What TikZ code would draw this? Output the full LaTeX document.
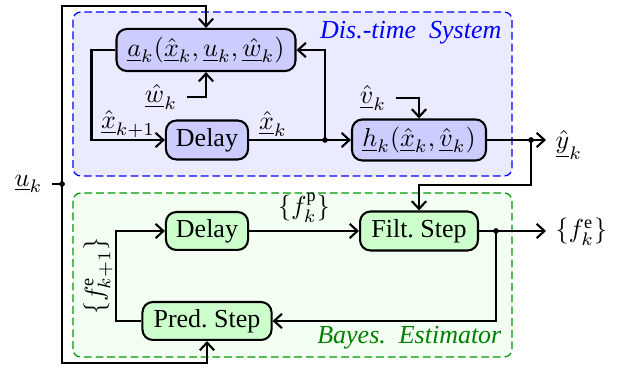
\documentclass[tikz,border=0pt]{standalone}
\usepackage{fontspec}
\setmainfont{Liberation Serif}
\newfontfamily\tmsfont{Liberation Serif}
\usetikzlibrary{arrows.meta}
\begin{document}
\begin{tikzpicture}[x=0.385pt,y=-0.385pt,
 line width=0.8pt,
 every node/.style={font=\tmsfont},
 blk/.style={draw, rounded corners=4pt, line width=0.8pt, inner sep=0pt},
 sysblk/.style={blk, fill=blue!20},
 estblk/.style={blk, fill=green!20},
 arr/.style={-{Straight Barb[length=3pt,width=5.5pt]}},
 sysbg/.style={draw=blue, fill=blue!8, rounded corners=3pt, line width=0.5pt, dash pattern=on 3pt off 1.5pt},
 estbg/.style={draw=green!60!black, fill=green!5, rounded corners=3pt, line width=0.5pt, dash pattern=on 3pt off 1.5pt},
 lbl/.style={inner sep=3.3pt},
 ttl/.style={font=\tmsfont\itshape, anchor=east},
 jdot/.style={fill=black},
]
\useasboundingbox (0,0) rectangle (618,369);
% background regions
\path[sysbg] (73,12) rectangle (512,176);
\path[estbg] (73,193) rectangle (512,357);
\node[ttl, text=blue] (t1) at (511,33) {Dis.-time\ \ System};
\node[ttl, text=green!50!black] (t2) at (511,338) {Bayes.\ \ Estimator};
% blocks
\node[sysblk, minimum width=68.9pt, minimum height=16.2pt] (a) at (206,50) {$\underline{a}_k(\underline{\hat{x}}_k,\underline{u}_k,\underline{\hat{w}}_k)$};
\node[sysblk, minimum width=31.6pt, minimum height=15pt] (d1) at (207,140) {Delay};
\node[sysblk, minimum width=51.6pt, minimum height=15.8pt] (h) at (419,140) {$\underline{h}_k(\underline{\hat{x}}_k,\underline{\hat{v}}_k)$};
\node[estblk, minimum width=45.4pt, minimum height=15pt] (filt) at (419,231) {Filt.\ Step};
\node[estblk, minimum width=31.6pt, minimum height=14.6pt] (d2) at (207,231) {Delay};
\node[estblk, minimum width=49.7pt, minimum height=14.6pt] (pred) at (207,321) {Pred.\ Step};
% labels
\node[lbl] (xk1) at (128,124) {$\underline{\hat{x}}_{k+1}$};
\node[lbl] (xk) at (273,124) {$\underline{\hat{x}}_k$};
\node[lbl] (wl) at (161,97) {$\underline{\hat{w}}_k$};
\node[lbl] (vl) at (373,98) {$\underline{\hat{v}}_k$};
\node[lbl, anchor=west] (yl) at (546,145) {$\underline{\hat{y}}_k$};
\node[lbl, anchor=west] (fe) at (546,232) {$\{f_k^{\mathrm{e}}\}$};
\node[lbl] (fp) at (304,208) {$\{f_k^{\mathrm{p}}\}$};
\node[lbl, rotate=90] (fe1) at (98,276) {$\{f_{k+1}^{\mathrm{e}}\}$};
\node[lbl, anchor=east] (ul) at (52,184) {$\underline{u}_k$};
% coordinates
\coordinate (j1) at (325,140);
\coordinate (j2) at (531,140);
\coordinate (j3) at (496,231);
\coordinate (ju) at (62,184);
\coordinate (ut) at (62,6);
\coordinate (ub) at (62,363);
\coordinate (k2) at (531,185);
% connectors
\draw[arr] (a.west) -- ++(-24,0) |- (d1.west);
\draw[arr] (d1.east) -- (h.west);
\draw[arr] (j1) |- (a.east);
\draw[arr] (wl.east) -| (a.south);
\draw[arr] (vl.east) -| (h.north);
\draw[arr] (h.east) -- (yl.west |- h.east);
\draw[arr] (j2) -- (k2) -| (filt.north);
\draw[arr] (filt.east) -- (fe.west |- filt.east);
\draw[arr] (j3) |- (pred.east);
\draw[arr] (pred.west) -- ++(-25,0) |- (d2.west);
\draw[arr] (d2.east) -- (filt.west);
\draw (ul.east) -- (ju);
\draw[arr] (ju) -- (ut) -| (a.north);
\draw[arr] (ju) -- (ub) -| (pred.south);
% junction dots
\fill[jdot] (j1) circle (1.1pt);
\fill[jdot] (j2) circle (1.1pt);
\fill[jdot] (j3) circle (1.1pt);
\fill[jdot] (ju) circle (1.1pt);
\end{tikzpicture}
\end{document}
